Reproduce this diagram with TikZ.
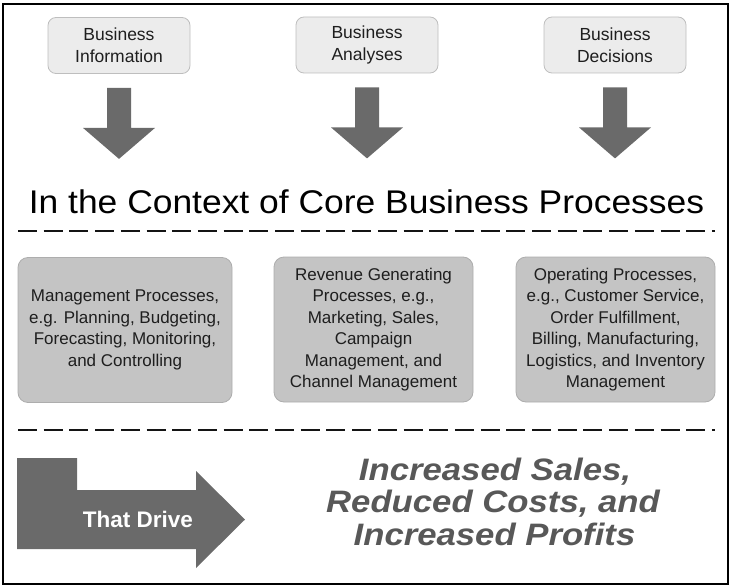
\documentclass[tikz,border=0pt]{standalone}
\usepackage{fontspec}
\setmainfont{Liberation Sans}
\newfontfamily\titlefont[FakeStretch=1.08]{Liberation Sans}
\newfontfamily\resfont[FakeStretch=1.12]{Liberation Sans}
\definecolor{topfill}{HTML}{ECECEC}
\definecolor{topdraw}{HTML}{BEBEBE}
\definecolor{midfill}{HTML}{C4C4C4}
\definecolor{middraw}{HTML}{ADADAD}
\definecolor{arrowgray}{HTML}{6A6A6A}
\definecolor{resgray}{HTML}{585858}
\definecolor{txt}{HTML}{1E1E1E}
\tikzset{
  topbox/.style={draw=topdraw, line width=0.8pt, fill=topfill, rounded corners=8pt,
    minimum width=142pt, minimum height=56pt, inner sep=0pt, align=center,
    text=txt, font=\fontsize{17.5}{22}\selectfont},
  midbox/.style={draw=middraw, line width=0.8pt, fill=midfill, rounded corners=10pt,
    minimum height=145pt, inner sep=0pt, align=center,
    text=txt, font=\fontsize{17}{21.5}\selectfont},
  downarrow/.style={fill=arrowgray},
  sepline/.style={line width=2.6pt, dash pattern=on 19pt off 6.7pt, color=black!92},
  restext/.style={anchor=base, inner sep=0pt, text=resgray,
    font=\resfont\bfseries\itshape\fontsize{31}{32}\selectfont}
}
\begin{document}
\begin{tikzpicture}[x=1pt,y=-1pt]
\useasboundingbox (0,0) rectangle (735,588);
% frame
\draw[line width=1.4pt] (3,4) rectangle (728,584);

% top boxes
\node[topbox] (bi) at (119,45.5) {Business\\Information};
\node[topbox] (ba) at (367,45) {Business\\Analyses};
\node[topbox] (bd) at (615,45) {Business\\Decisions};

% down arrows
\foreach \b in {bi,ba,bd}{
  \fill[downarrow, shift={(\b.south)}]
    (-12,14) -- (12,14) -- (12,54) -- (36,54) -- (0,85) -- (-36,54) -- (-12,54) -- cycle;
}

% title
\node[anchor=base, inner sep=0pt, font=\titlefont\fontsize{32.8}{36}\selectfont] (title) at (366.5,213)
  {In the Context of Core Business Processes};

% separators
\coordinate (s1a) at (18,231);
\coordinate (s1b) at (715,231);
\coordinate (s2a) at (18,430);
\coordinate (s2b) at (715,430);
\draw[sepline] (s1a) -- (s1b);
\draw[sepline] (s2a) -- (s2b);

% middle boxes
\node[midbox, minimum width=214pt] (mp) at (125,330)
  {Management Processes,\\e.g. Planning, Budgeting,\\Forecasting, Monitoring,\\and Controlling};
\node[midbox, minimum width=199pt] (rg) at (373.5,329.5)
  {Revenue Generating\\Processes, e.g.,\\Marketing, Sales,\\Campaign\\Management, and\\Channel Management};
\node[midbox, minimum width=199pt] (op) at (615.5,329.5)
  {Operating Processes,\\e.g., Customer Service,\\Order Fulfillment,\\Billing, Manufacturing,\\Logistics, and Inventory\\Management};

% bottom arrow
\fill[arrowgray] (17,458) -- (77,458) -- (77,490) -- (196,490) -- (196,471) -- (245,519.5)
  -- (196,568) -- (196,549) -- (17,549) -- cycle;
\node[anchor=base, inner sep=0pt, text=white, font=\bfseries\fontsize{22.5}{24}\selectfont]
  (drive) at (138,527) {That Drive};

% result text
\node[restext] (r1) at (495,480) {Increased Sales,};
\node[restext] (r2) at (493,512.5) {Reduced Costs, and};
\node[restext] (r3) at (494.5,545) {Increased Profits};
\end{tikzpicture}
\end{document}
